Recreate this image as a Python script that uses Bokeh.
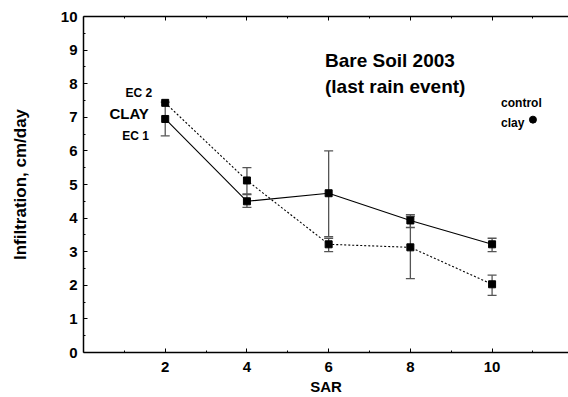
from bokeh.plotting import figure
from bokeh.models import (ColumnDataSource, Whisker, TeeHead, FixedTicker, LinearAxis,
                          Label, Range1d)
from bokeh.embed import file_html
from bokeh.resources import INLINE

# ---- data ----
sar = [2, 4, 6, 8, 10]
ec1 = [6.95, 4.5, 4.74, 3.93, 3.22]
ec1_lower = [6.45, 4.32, 3.45, 3.72, 3.0]
ec1_upper = [7.45, 4.7, 6.0, 4.1, 3.4]
ec2 = [7.43, 5.12, 3.22, 3.13, 2.03]
ec2_lower = [7.43, 4.72, 3.0, 2.2, 1.7]
ec2_upper = [7.43, 5.5, 3.4, 4.05, 2.3]
control_x = [11]
control_y = [6.93]
x_ticks = [2, 4, 6, 8, 10]
x_minor = [1, 3, 5, 7, 9, 11]
y_ticks = [0, 1, 2, 3, 4, 5, 6, 7, 8, 9, 10]
y_minor = [0.5, 1.5, 2.5, 3.5, 4.5, 5.5, 6.5, 7.5, 8.5, 9.5]

FONT = "Liberation Sans"

p = figure(width=568, height=397, output_backend="svg", toolbar_location=None,
           x_range=Range1d(0, 11.87), y_range=Range1d(0, 10),
           min_border_left=83, min_border_right=0, min_border_top=16,
           min_border_bottom=45)
p.outline_line_color = None
p.grid.visible = False
p.background_fill_color = "white"
p.border_fill_color = "white"

# axes styling
for ax in [p.xaxis[0], p.yaxis[0]]:
    ax.axis_line_color = "black"
    ax.axis_line_width = 1.5
    ax.major_tick_in = 4
    ax.major_tick_out = 0
    ax.minor_tick_in = 2
    ax.minor_tick_out = 0
    ax.major_tick_line_color = "black"
    ax.minor_tick_line_color = "black"
    ax.major_label_text_font = FONT
    ax.major_label_text_font_style = "bold"
    ax.major_label_text_font_size = "15px"
    ax.major_label_text_color = "black"
    ax.axis_label_text_font = FONT
    ax.axis_label_text_font_style = "bold"
    ax.axis_label_text_color = "black"

p.xaxis[0].ticker = FixedTicker(ticks=x_ticks, minor_ticks=x_minor)
p.yaxis[0].ticker = FixedTicker(ticks=y_ticks, minor_ticks=y_minor)
p.xaxis[0].major_label_standoff = 9
p.yaxis[0].major_label_standoff = 6

p.xaxis[0].axis_label = "SAR"
p.xaxis[0].axis_label_text_font_size = "15px"
p.xaxis[0].axis_label_standoff = 3

p.yaxis[0].axis_label = "Infiltration, cm/day"
p.yaxis[0].axis_label_text_font_size = "17px"
p.yaxis[0].axis_label_standoff = 28

# top axis (ticks only, no labels)
top = LinearAxis(ticker=FixedTicker(ticks=x_ticks, minor_ticks=x_minor))
top.axis_line_width = 1.5
top.major_tick_in = 4
top.major_tick_out = 0
top.minor_tick_in = 2
top.minor_tick_out = 0
top.major_label_overrides = {t: "" for t in x_ticks}
top.major_label_standoff = 0
p.add_layout(top, "above")

# lines
p.line(sar, ec1, line_color="black", line_width=1.1)
p.line(sar, ec2, line_color="black", line_width=1.1, line_dash="2 2")

# error bars
def whisk(xs, lo, hi):
    idx = [i for i in range(len(xs)) if hi[i] > lo[i]]
    src = ColumnDataSource(dict(x=[xs[i] for i in idx], lower=[lo[i] for i in idx],
                                upper=[hi[i] for i in idx]))
    w = Whisker(source=src, base="x", lower="lower", upper="upper",
                line_color="#555555", line_width=1.3,
                upper_head=TeeHead(size=9, line_color="#555555", line_width=1.3),
                lower_head=TeeHead(size=9, line_color="#555555", line_width=1.3))
    p.add_layout(w)

whisk(sar, ec1_lower, ec1_upper)
whisk(sar, ec2_lower, ec2_upper)

p.scatter(sar, ec1, marker="square", size=7, fill_color="black", line_color="black")
p.scatter(sar, ec2, marker="square", size=7, fill_color="black", line_color="black")
p.scatter(control_x, control_y, marker="circle", size=7, fill_color="black", line_color="black")

def lab(x, y, text, size, align="left"):
    p.add_layout(Label(x=x, y=y, text=text, text_font=FONT, text_font_style="bold",
                       text_font_size=size, text_align=align, text_baseline="middle",
                       text_color="black"))

lab(1.68, 7.71, "EC 2", "12px", "right")
lab(1.60, 7.11, "CLAY", "15px", "right")
lab(1.60, 6.43, "EC 1", "12px", "right")
lab(5.91, 8.69, "Bare Soil 2003", "19px")
lab(5.91, 7.92, "(last rain event)", "19px")
lab(10.22, 7.42, "control", "12px")
lab(10.22, 6.82, "clay", "12px")

open("out.html", "w").write(file_html(p, INLINE))
